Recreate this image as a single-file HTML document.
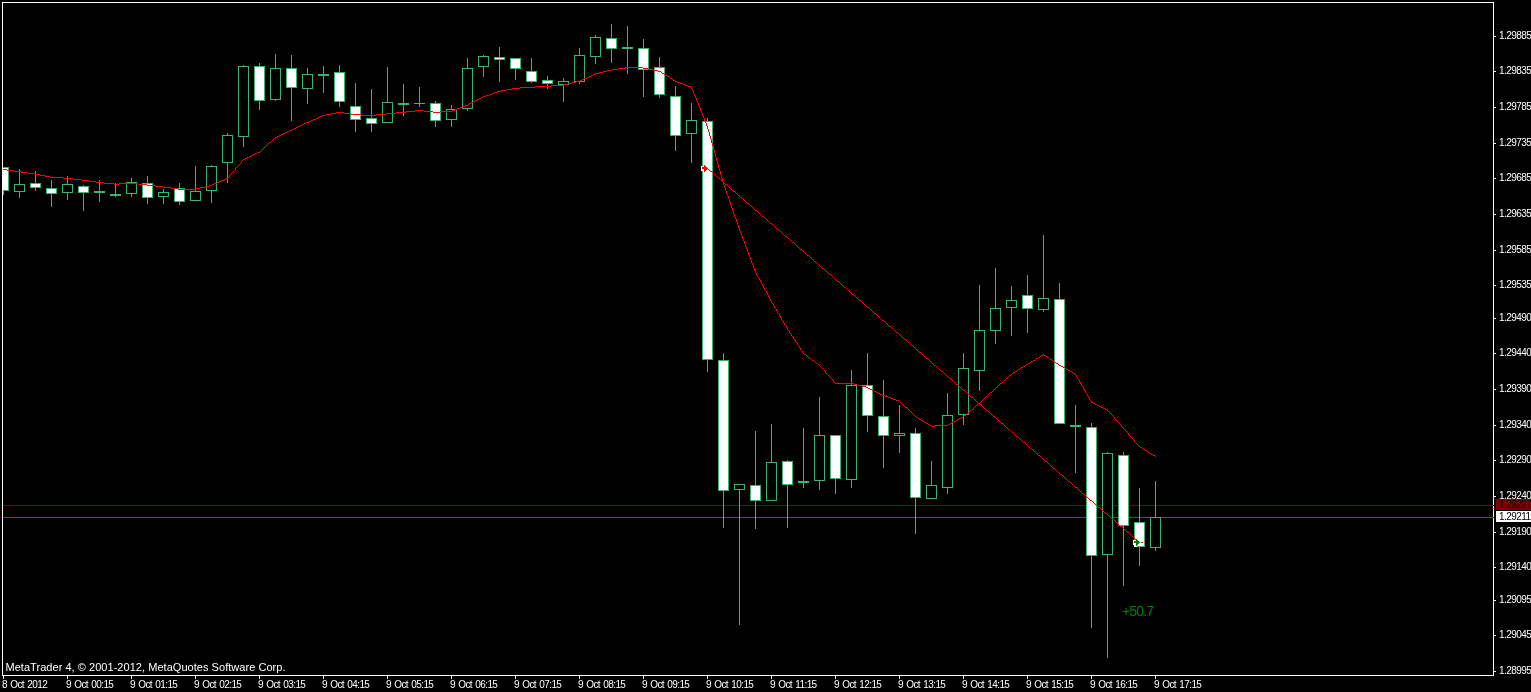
<!DOCTYPE html>
<html lang="en">
<head>
<meta charset="utf-8">
<title>MetaTrader 4 chart</title>
<style>
html,body{margin:0;padding:0;background:#000;}
body{width:1531px;height:692px;overflow:hidden;position:relative;font-family:"Liberation Sans",sans-serif;}
#chart{position:absolute;left:0;top:0;width:1531px;height:692px;display:block;}
.t{position:absolute;white-space:nowrap;color:#fff;line-height:1;}
.p{font-size:10px;letter-spacing:-0.55px;left:1499px;}
.d{font-size:10px;letter-spacing:-0.6px;word-spacing:1.1px;top:680px;}
.box{position:absolute;left:1496px;width:35px;height:11px;}
</style>
</head>
<body>
<svg id="chart" width="1531" height="692" viewBox="0 0 1531 692" shape-rendering="crispEdges">
<rect x="0" y="0" width="1531" height="692" fill="#000"/>

<g id="levels">
<rect x="3" y="505" width="1490" height="1" fill="#800000"/>
<rect x="3" y="517" width="1490" height="1" fill="#008000"/>
</g>
<g id="candles">
<g><rect x="3" y="167" width="1" height="28" fill="#3cb371"/><rect x="3" y="167" width="6" height="24" fill="#3cb371"/><rect x="3" y="168" width="5" height="22" fill="#ffffff"/></g>
<g><rect x="19" y="169" width="1" height="29" fill="#3cb371"/><rect x="14" y="184" width="11" height="8" fill="#3cb371"/><rect x="15" y="185" width="9" height="6" fill="#000"/></g>
<g><rect x="35" y="171" width="1" height="20" fill="#3cb371"/><rect x="30" y="183" width="11" height="5" fill="#3cb371"/><rect x="31" y="184" width="9" height="3" fill="#ffffff"/></g>
<g><rect x="51" y="180" width="1" height="27" fill="#3cb371"/><rect x="46" y="188" width="11" height="6" fill="#3cb371"/><rect x="47" y="189" width="9" height="4" fill="#ffffff"/></g>
<g><rect x="67" y="176" width="1" height="24" fill="#3cb371"/><rect x="62" y="184" width="11" height="9" fill="#3cb371"/><rect x="63" y="185" width="9" height="7" fill="#000"/></g>
<g><rect x="83" y="185" width="1" height="26" fill="#3cb371"/><rect x="78" y="186" width="11" height="7" fill="#3cb371"/><rect x="79" y="187" width="9" height="5" fill="#ffffff"/></g>
<g><rect x="99" y="180" width="1" height="22" fill="#3cb371"/><rect x="94" y="191" width="11" height="2" fill="#3cb371"/></g>
<g><rect x="115" y="183" width="1" height="14" fill="#3cb371"/><rect x="110" y="194" width="11" height="2" fill="#3cb371"/></g>
<g><rect x="131" y="178" width="1" height="19" fill="#3cb371"/><rect x="126" y="182" width="11" height="12" fill="#3cb371"/><rect x="127" y="183" width="9" height="10" fill="#000"/></g>
<g><rect x="147" y="176" width="1" height="28" fill="#3cb371"/><rect x="142" y="183" width="11" height="15" fill="#3cb371"/><rect x="143" y="184" width="9" height="13" fill="#ffffff"/></g>
<g><rect x="163" y="189" width="1" height="15" fill="#3cb371"/><rect x="158" y="192" width="11" height="5" fill="#3cb371"/><rect x="159" y="193" width="9" height="3" fill="#000"/></g>
<g><rect x="179" y="183" width="1" height="22" fill="#3cb371"/><rect x="174" y="188" width="11" height="14" fill="#3cb371"/><rect x="175" y="189" width="9" height="12" fill="#ffffff"/></g>
<g><rect x="195" y="166" width="1" height="35" fill="#3cb371"/><rect x="190" y="191" width="11" height="10" fill="#3cb371"/><rect x="191" y="192" width="9" height="8" fill="#000"/></g>
<g><rect x="211" y="165" width="1" height="38" fill="#3cb371"/><rect x="206" y="166" width="11" height="25" fill="#3cb371"/><rect x="207" y="167" width="9" height="23" fill="#000"/></g>
<g><rect x="227" y="133" width="1" height="50" fill="#3cb371"/><rect x="222" y="135" width="11" height="28" fill="#3cb371"/><rect x="223" y="136" width="9" height="26" fill="#000"/></g>
<g><rect x="243" y="65" width="1" height="82" fill="#3cb371"/><rect x="238" y="66" width="11" height="71" fill="#3cb371"/><rect x="239" y="67" width="9" height="69" fill="#000"/></g>
<g><rect x="259" y="63" width="1" height="47" fill="#3cb371"/><rect x="254" y="66" width="11" height="35" fill="#3cb371"/><rect x="255" y="67" width="9" height="33" fill="#ffffff"/></g>
<g><rect x="275" y="54" width="1" height="47" fill="#3cb371"/><rect x="270" y="68" width="11" height="32" fill="#3cb371"/><rect x="271" y="69" width="9" height="30" fill="#000"/></g>
<g><rect x="291" y="55" width="1" height="66" fill="#3cb371"/><rect x="286" y="68" width="11" height="20" fill="#3cb371"/><rect x="287" y="69" width="9" height="18" fill="#ffffff"/></g>
<g><rect x="307" y="68" width="1" height="36" fill="#3cb371"/><rect x="302" y="74" width="11" height="15" fill="#3cb371"/><rect x="303" y="75" width="9" height="13" fill="#000"/></g>
<g><rect x="323" y="66" width="1" height="27" fill="#3cb371"/><rect x="318" y="74" width="11" height="2" fill="#3cb371"/></g>
<g><rect x="339" y="65" width="1" height="42" fill="#3cb371"/><rect x="334" y="72" width="11" height="30" fill="#3cb371"/><rect x="335" y="73" width="9" height="28" fill="#ffffff"/></g>
<g><rect x="355" y="83" width="1" height="49" fill="#3cb371"/><rect x="350" y="106" width="11" height="14" fill="#3cb371"/><rect x="351" y="107" width="9" height="12" fill="#ffffff"/></g>
<g><rect x="371" y="89" width="1" height="43" fill="#3cb371"/><rect x="366" y="118" width="11" height="6" fill="#3cb371"/><rect x="367" y="119" width="9" height="4" fill="#ffffff"/></g>
<g><rect x="387" y="67" width="1" height="56" fill="#3cb371"/><rect x="382" y="102" width="11" height="21" fill="#3cb371"/><rect x="383" y="103" width="9" height="19" fill="#000"/></g>
<g><rect x="403" y="84" width="1" height="32" fill="#3cb371"/><rect x="398" y="103" width="11" height="2" fill="#3cb371"/></g>
<g><rect x="419" y="87" width="1" height="20" fill="#3cb371"/><rect x="414" y="103" width="11" height="1" fill="#3cb371"/></g>
<g><rect x="435" y="101" width="1" height="26" fill="#3cb371"/><rect x="430" y="103" width="11" height="18" fill="#3cb371"/><rect x="431" y="104" width="9" height="16" fill="#ffffff"/></g>
<g><rect x="451" y="105" width="1" height="22" fill="#3cb371"/><rect x="446" y="109" width="11" height="11" fill="#3cb371"/><rect x="447" y="110" width="9" height="9" fill="#000"/></g>
<g><rect x="467" y="58" width="1" height="53" fill="#3cb371"/><rect x="462" y="68" width="11" height="41" fill="#3cb371"/><rect x="463" y="69" width="9" height="39" fill="#000"/></g>
<g><rect x="483" y="55" width="1" height="22" fill="#3cb371"/><rect x="478" y="56" width="11" height="11" fill="#3cb371"/><rect x="479" y="57" width="9" height="9" fill="#000"/></g>
<g><rect x="499" y="47" width="1" height="35" fill="#3cb371"/><rect x="494" y="57" width="11" height="3" fill="#3cb371"/><rect x="495" y="58" width="9" height="1" fill="#ffffff"/></g>
<g><rect x="515" y="58" width="1" height="22" fill="#3cb371"/><rect x="510" y="58" width="11" height="11" fill="#3cb371"/><rect x="511" y="59" width="9" height="9" fill="#ffffff"/></g>
<g><rect x="531" y="58" width="1" height="25" fill="#3cb371"/><rect x="526" y="71" width="11" height="11" fill="#3cb371"/><rect x="527" y="72" width="9" height="9" fill="#ffffff"/></g>
<g><rect x="547" y="76" width="1" height="13" fill="#3cb371"/><rect x="542" y="80" width="11" height="4" fill="#3cb371"/><rect x="543" y="81" width="9" height="2" fill="#ffffff"/></g>
<g><rect x="563" y="78" width="1" height="24" fill="#3cb371"/><rect x="558" y="81" width="11" height="4" fill="#3cb371"/><rect x="559" y="82" width="9" height="2" fill="#000"/></g>
<g><rect x="579" y="48" width="1" height="36" fill="#3cb371"/><rect x="574" y="55" width="11" height="27" fill="#3cb371"/><rect x="575" y="56" width="9" height="25" fill="#000"/></g>
<g><rect x="595" y="35" width="1" height="29" fill="#3cb371"/><rect x="590" y="37" width="11" height="20" fill="#3cb371"/><rect x="591" y="38" width="9" height="18" fill="#000"/></g>
<g><rect x="611" y="24" width="1" height="39" fill="#3cb371"/><rect x="606" y="38" width="11" height="11" fill="#3cb371"/><rect x="607" y="39" width="9" height="9" fill="#ffffff"/></g>
<g><rect x="627" y="26" width="1" height="48" fill="#3cb371"/><rect x="622" y="47" width="11" height="2" fill="#3cb371"/></g>
<g><rect x="643" y="39" width="1" height="58" fill="#3cb371"/><rect x="638" y="48" width="11" height="22" fill="#3cb371"/><rect x="639" y="49" width="9" height="20" fill="#ffffff"/></g>
<g><rect x="659" y="57" width="1" height="41" fill="#3cb371"/><rect x="654" y="67" width="11" height="28" fill="#3cb371"/><rect x="655" y="68" width="9" height="26" fill="#ffffff"/></g>
<g><rect x="675" y="86" width="1" height="65" fill="#3cb371"/><rect x="670" y="96" width="11" height="40" fill="#3cb371"/><rect x="671" y="97" width="9" height="38" fill="#ffffff"/></g>
<g><rect x="691" y="103" width="1" height="60" fill="#3cb371"/><rect x="686" y="120" width="11" height="14" fill="#3cb371"/><rect x="687" y="121" width="9" height="12" fill="#000"/></g>
<g><rect x="707" y="118" width="1" height="254" fill="#3cb371"/><rect x="702" y="121" width="11" height="239" fill="#3cb371"/><rect x="703" y="122" width="9" height="237" fill="#ffffff"/></g>
<g><rect x="723" y="353" width="1" height="175" fill="#3cb371"/><rect x="718" y="360" width="11" height="131" fill="#3cb371"/><rect x="719" y="361" width="9" height="129" fill="#ffffff"/></g>
<g><rect x="739" y="484" width="1" height="141" fill="#3cb371"/><rect x="734" y="484" width="11" height="6" fill="#3cb371"/><rect x="735" y="485" width="9" height="4" fill="#000"/></g>
<g><rect x="755" y="431" width="1" height="98" fill="#3cb371"/><rect x="750" y="485" width="11" height="16" fill="#3cb371"/><rect x="751" y="486" width="9" height="14" fill="#ffffff"/></g>
<g><rect x="771" y="424" width="1" height="77" fill="#3cb371"/><rect x="766" y="462" width="11" height="39" fill="#3cb371"/><rect x="767" y="463" width="9" height="37" fill="#000"/></g>
<g><rect x="787" y="460" width="1" height="68" fill="#3cb371"/><rect x="782" y="461" width="11" height="24" fill="#3cb371"/><rect x="783" y="462" width="9" height="22" fill="#ffffff"/></g>
<g><rect x="803" y="428" width="1" height="60" fill="#3cb371"/><rect x="798" y="481" width="11" height="2" fill="#3cb371"/></g>
<g><rect x="819" y="397" width="1" height="93" fill="#3cb371"/><rect x="814" y="435" width="11" height="46" fill="#3cb371"/><rect x="815" y="436" width="9" height="44" fill="#000"/></g>
<g><rect x="835" y="435" width="1" height="59" fill="#3cb371"/><rect x="830" y="435" width="11" height="44" fill="#3cb371"/><rect x="831" y="436" width="9" height="42" fill="#ffffff"/></g>
<g><rect x="851" y="370" width="1" height="118" fill="#3cb371"/><rect x="846" y="385" width="11" height="95" fill="#3cb371"/><rect x="847" y="386" width="9" height="93" fill="#000"/></g>
<g><rect x="867" y="353" width="1" height="79" fill="#3cb371"/><rect x="862" y="385" width="11" height="31" fill="#3cb371"/><rect x="863" y="386" width="9" height="29" fill="#ffffff"/></g>
<g><rect x="883" y="380" width="1" height="88" fill="#3cb371"/><rect x="878" y="416" width="11" height="20" fill="#3cb371"/><rect x="879" y="417" width="9" height="18" fill="#ffffff"/></g>
<g><rect x="899" y="405" width="1" height="48" fill="#3cb371"/><rect x="894" y="433" width="11" height="3" fill="#3cb371"/><rect x="895" y="434" width="9" height="1" fill="#000"/></g>
<g><rect x="915" y="428" width="1" height="106" fill="#3cb371"/><rect x="910" y="433" width="11" height="65" fill="#3cb371"/><rect x="911" y="434" width="9" height="63" fill="#ffffff"/></g>
<g><rect x="931" y="461" width="1" height="38" fill="#3cb371"/><rect x="926" y="485" width="11" height="14" fill="#3cb371"/><rect x="927" y="486" width="9" height="12" fill="#000"/></g>
<g><rect x="947" y="393" width="1" height="101" fill="#3cb371"/><rect x="942" y="415" width="11" height="73" fill="#3cb371"/><rect x="943" y="416" width="9" height="71" fill="#000"/></g>
<g><rect x="963" y="353" width="1" height="72" fill="#3cb371"/><rect x="958" y="368" width="11" height="47" fill="#3cb371"/><rect x="959" y="369" width="9" height="45" fill="#000"/></g>
<g><rect x="979" y="285" width="1" height="106" fill="#3cb371"/><rect x="974" y="330" width="11" height="41" fill="#3cb371"/><rect x="975" y="331" width="9" height="39" fill="#000"/></g>
<g><rect x="995" y="268" width="1" height="76" fill="#3cb371"/><rect x="990" y="308" width="11" height="23" fill="#3cb371"/><rect x="991" y="309" width="9" height="21" fill="#000"/></g>
<g><rect x="1011" y="286" width="1" height="50" fill="#3cb371"/><rect x="1006" y="300" width="11" height="8" fill="#3cb371"/><rect x="1007" y="301" width="9" height="6" fill="#000"/></g>
<g><rect x="1027" y="275" width="1" height="58" fill="#3cb371"/><rect x="1022" y="295" width="11" height="14" fill="#3cb371"/><rect x="1023" y="296" width="9" height="12" fill="#ffffff"/></g>
<g><rect x="1043" y="235" width="1" height="77" fill="#3cb371"/><rect x="1038" y="298" width="11" height="12" fill="#3cb371"/><rect x="1039" y="299" width="9" height="10" fill="#000"/></g>
<g><rect x="1059" y="283" width="1" height="141" fill="#3cb371"/><rect x="1054" y="299" width="11" height="125" fill="#3cb371"/><rect x="1055" y="300" width="9" height="123" fill="#ffffff"/></g>
<g><rect x="1075" y="405" width="1" height="68" fill="#3cb371"/><rect x="1070" y="425" width="11" height="2" fill="#3cb371"/></g>
<g><rect x="1091" y="423" width="1" height="205" fill="#3cb371"/><rect x="1086" y="427" width="11" height="129" fill="#3cb371"/><rect x="1087" y="428" width="9" height="127" fill="#ffffff"/></g>
<g><rect x="1107" y="452" width="1" height="206" fill="#3cb371"/><rect x="1102" y="453" width="11" height="102" fill="#3cb371"/><rect x="1103" y="454" width="9" height="100" fill="#000"/></g>
<g><rect x="1123" y="452" width="1" height="134" fill="#3cb371"/><rect x="1118" y="455" width="11" height="71" fill="#3cb371"/><rect x="1119" y="456" width="9" height="69" fill="#ffffff"/></g>
<g><rect x="1139" y="488" width="1" height="78" fill="#3cb371"/><rect x="1134" y="522" width="11" height="25" fill="#3cb371"/><rect x="1135" y="523" width="9" height="23" fill="#ffffff"/></g>
<g><rect x="1155" y="481" width="1" height="70" fill="#3cb371"/><rect x="1150" y="517" width="11" height="31" fill="#3cb371"/><rect x="1151" y="518" width="9" height="29" fill="#000"/></g>
</g>
<g id="ma"><rect x="3" y="169" width="4" height="1" fill="#ff0000"/><rect x="7" y="170" width="7" height="1" fill="#ff0000"/><rect x="14" y="171" width="7" height="1" fill="#ff0000"/><rect x="21" y="172" width="7" height="1" fill="#ff0000"/><rect x="28" y="173" width="6" height="1" fill="#ff0000"/><rect x="34" y="174" width="6" height="1" fill="#ff0000"/><rect x="40" y="175" width="5" height="1" fill="#ff0000"/><rect x="45" y="176" width="5" height="1" fill="#ff0000"/><rect x="50" y="177" width="13" height="1" fill="#ff0000"/><rect x="63" y="178" width="10" height="1" fill="#ff0000"/><rect x="73" y="179" width="8" height="1" fill="#ff0000"/><rect x="81" y="180" width="8" height="1" fill="#ff0000"/><rect x="89" y="181" width="7" height="1" fill="#ff0000"/><rect x="96" y="182" width="8" height="1" fill="#ff0000"/><rect x="104" y="183" width="10" height="1" fill="#ff0000"/><rect x="114" y="184" width="5" height="1" fill="#ff0000"/><rect x="119" y="183" width="19" height="1" fill="#ff0000"/><rect x="138" y="184" width="9" height="1" fill="#ff0000"/><rect x="147" y="185" width="8" height="1" fill="#ff0000"/><rect x="155" y="186" width="8" height="1" fill="#ff0000"/><rect x="163" y="187" width="8" height="1" fill="#ff0000"/><rect x="171" y="188" width="7" height="1" fill="#ff0000"/><rect x="178" y="189" width="18" height="1" fill="#ff0000"/><rect x="196" y="188" width="4" height="1" fill="#ff0000"/><rect x="200" y="187" width="5" height="1" fill="#ff0000"/><rect x="205" y="186" width="4" height="1" fill="#ff0000"/><rect x="209" y="185" width="3" height="1" fill="#ff0000"/><rect x="212" y="184" width="2" height="1" fill="#ff0000"/><rect x="214" y="183" width="3" height="1" fill="#ff0000"/><rect x="217" y="182" width="2" height="1" fill="#ff0000"/><rect x="219" y="181" width="2" height="1" fill="#ff0000"/><rect x="221" y="180" width="3" height="1" fill="#ff0000"/><rect x="224" y="179" width="2" height="1" fill="#ff0000"/><rect x="226" y="178" width="2" height="1" fill="#ff0000"/><rect x="228" y="177" width="1" height="1" fill="#ff0000"/><rect x="229" y="175" width="1" height="2" fill="#ff0000"/><rect x="230" y="174" width="1" height="1" fill="#ff0000"/><rect x="231" y="173" width="1" height="1" fill="#ff0000"/><rect x="232" y="172" width="1" height="1" fill="#ff0000"/><rect x="233" y="171" width="1" height="1" fill="#ff0000"/><rect x="234" y="170" width="1" height="1" fill="#ff0000"/><rect x="235" y="168" width="1" height="2" fill="#ff0000"/><rect x="236" y="167" width="1" height="1" fill="#ff0000"/><rect x="237" y="166" width="1" height="1" fill="#ff0000"/><rect x="238" y="165" width="1" height="1" fill="#ff0000"/><rect x="239" y="164" width="1" height="1" fill="#ff0000"/><rect x="240" y="163" width="1" height="1" fill="#ff0000"/><rect x="241" y="161" width="1" height="2" fill="#ff0000"/><rect x="242" y="160" width="1" height="1" fill="#ff0000"/><rect x="243" y="159" width="2" height="1" fill="#ff0000"/><rect x="245" y="158" width="2" height="1" fill="#ff0000"/><rect x="247" y="157" width="2" height="1" fill="#ff0000"/><rect x="249" y="156" width="2" height="1" fill="#ff0000"/><rect x="251" y="155" width="2" height="1" fill="#ff0000"/><rect x="253" y="154" width="2" height="1" fill="#ff0000"/><rect x="255" y="153" width="2" height="1" fill="#ff0000"/><rect x="257" y="152" width="3" height="1" fill="#ff0000"/><rect x="260" y="151" width="1" height="1" fill="#ff0000"/><rect x="261" y="150" width="1" height="1" fill="#ff0000"/><rect x="262" y="149" width="1" height="1" fill="#ff0000"/><rect x="263" y="148" width="1" height="1" fill="#ff0000"/><rect x="264" y="147" width="1" height="1" fill="#ff0000"/><rect x="265" y="146" width="1" height="1" fill="#ff0000"/><rect x="266" y="145" width="1" height="1" fill="#ff0000"/><rect x="267" y="144" width="1" height="1" fill="#ff0000"/><rect x="268" y="143" width="1" height="1" fill="#ff0000"/><rect x="269" y="142" width="2" height="1" fill="#ff0000"/><rect x="271" y="141" width="1" height="1" fill="#ff0000"/><rect x="272" y="140" width="1" height="1" fill="#ff0000"/><rect x="273" y="139" width="1" height="1" fill="#ff0000"/><rect x="274" y="138" width="1" height="1" fill="#ff0000"/><rect x="275" y="137" width="2" height="1" fill="#ff0000"/><rect x="277" y="136" width="2" height="1" fill="#ff0000"/><rect x="279" y="135" width="2" height="1" fill="#ff0000"/><rect x="281" y="134" width="2" height="1" fill="#ff0000"/><rect x="283" y="133" width="2" height="1" fill="#ff0000"/><rect x="285" y="132" width="2" height="1" fill="#ff0000"/><rect x="287" y="131" width="2" height="1" fill="#ff0000"/><rect x="289" y="130" width="3" height="1" fill="#ff0000"/><rect x="292" y="129" width="2" height="1" fill="#ff0000"/><rect x="294" y="128" width="2" height="1" fill="#ff0000"/><rect x="296" y="127" width="2" height="1" fill="#ff0000"/><rect x="298" y="126" width="2" height="1" fill="#ff0000"/><rect x="300" y="125" width="2" height="1" fill="#ff0000"/><rect x="302" y="124" width="2" height="1" fill="#ff0000"/><rect x="304" y="123" width="2" height="1" fill="#ff0000"/><rect x="306" y="122" width="3" height="1" fill="#ff0000"/><rect x="309" y="121" width="2" height="1" fill="#ff0000"/><rect x="311" y="120" width="2" height="1" fill="#ff0000"/><rect x="313" y="119" width="3" height="1" fill="#ff0000"/><rect x="316" y="118" width="2" height="1" fill="#ff0000"/><rect x="318" y="117" width="2" height="1" fill="#ff0000"/><rect x="320" y="116" width="2" height="1" fill="#ff0000"/><rect x="322" y="115" width="4" height="1" fill="#ff0000"/><rect x="326" y="114" width="5" height="1" fill="#ff0000"/><rect x="331" y="113" width="5" height="1" fill="#ff0000"/><rect x="336" y="112" width="8" height="1" fill="#ff0000"/><rect x="344" y="113" width="7" height="1" fill="#ff0000"/><rect x="351" y="114" width="10" height="1" fill="#ff0000"/><rect x="361" y="115" width="15" height="1" fill="#ff0000"/><rect x="376" y="114" width="10" height="1" fill="#ff0000"/><rect x="386" y="113" width="10" height="1" fill="#ff0000"/><rect x="396" y="112" width="10" height="1" fill="#ff0000"/><rect x="406" y="111" width="9" height="1" fill="#ff0000"/><rect x="415" y="110" width="9" height="1" fill="#ff0000"/><rect x="424" y="111" width="9" height="1" fill="#ff0000"/><rect x="433" y="112" width="7" height="1" fill="#ff0000"/><rect x="440" y="111" width="12" height="1" fill="#ff0000"/><rect x="452" y="110" width="3" height="1" fill="#ff0000"/><rect x="455" y="109" width="2" height="1" fill="#ff0000"/><rect x="457" y="108" width="3" height="1" fill="#ff0000"/><rect x="460" y="107" width="2" height="1" fill="#ff0000"/><rect x="462" y="106" width="3" height="1" fill="#ff0000"/><rect x="465" y="105" width="3" height="1" fill="#ff0000"/><rect x="468" y="104" width="1" height="1" fill="#ff0000"/><rect x="469" y="103" width="2" height="1" fill="#ff0000"/><rect x="471" y="102" width="2" height="1" fill="#ff0000"/><rect x="473" y="101" width="2" height="1" fill="#ff0000"/><rect x="475" y="100" width="2" height="1" fill="#ff0000"/><rect x="477" y="99" width="2" height="1" fill="#ff0000"/><rect x="479" y="98" width="2" height="1" fill="#ff0000"/><rect x="481" y="97" width="2" height="1" fill="#ff0000"/><rect x="483" y="96" width="3" height="1" fill="#ff0000"/><rect x="486" y="95" width="3" height="1" fill="#ff0000"/><rect x="489" y="94" width="3" height="1" fill="#ff0000"/><rect x="492" y="93" width="2" height="1" fill="#ff0000"/><rect x="494" y="92" width="3" height="1" fill="#ff0000"/><rect x="497" y="91" width="4" height="1" fill="#ff0000"/><rect x="501" y="90" width="5" height="1" fill="#ff0000"/><rect x="506" y="89" width="6" height="1" fill="#ff0000"/><rect x="512" y="88" width="8" height="1" fill="#ff0000"/><rect x="520" y="87" width="15" height="1" fill="#ff0000"/><rect x="535" y="86" width="16" height="1" fill="#ff0000"/><rect x="551" y="85" width="13" height="1" fill="#ff0000"/><rect x="564" y="84" width="4" height="1" fill="#ff0000"/><rect x="568" y="83" width="4" height="1" fill="#ff0000"/><rect x="572" y="82" width="4" height="1" fill="#ff0000"/><rect x="576" y="81" width="4" height="1" fill="#ff0000"/><rect x="580" y="80" width="2" height="1" fill="#ff0000"/><rect x="582" y="79" width="2" height="1" fill="#ff0000"/><rect x="584" y="78" width="3" height="1" fill="#ff0000"/><rect x="587" y="77" width="2" height="1" fill="#ff0000"/><rect x="589" y="76" width="2" height="1" fill="#ff0000"/><rect x="591" y="75" width="2" height="1" fill="#ff0000"/><rect x="593" y="74" width="2" height="1" fill="#ff0000"/><rect x="595" y="73" width="4" height="1" fill="#ff0000"/><rect x="599" y="72" width="4" height="1" fill="#ff0000"/><rect x="603" y="71" width="4" height="1" fill="#ff0000"/><rect x="607" y="70" width="5" height="1" fill="#ff0000"/><rect x="612" y="69" width="6" height="1" fill="#ff0000"/><rect x="618" y="68" width="7" height="1" fill="#ff0000"/><rect x="625" y="67" width="18" height="1" fill="#ff0000"/><rect x="643" y="68" width="5" height="1" fill="#ff0000"/><rect x="648" y="69" width="5" height="1" fill="#ff0000"/><rect x="653" y="70" width="5" height="1" fill="#ff0000"/><rect x="658" y="71" width="3" height="1" fill="#ff0000"/><rect x="661" y="72" width="1" height="1" fill="#ff0000"/><rect x="662" y="73" width="2" height="1" fill="#ff0000"/><rect x="664" y="74" width="1" height="1" fill="#ff0000"/><rect x="665" y="75" width="2" height="1" fill="#ff0000"/><rect x="667" y="76" width="2" height="1" fill="#ff0000"/><rect x="669" y="77" width="1" height="1" fill="#ff0000"/><rect x="670" y="78" width="2" height="1" fill="#ff0000"/><rect x="672" y="79" width="1" height="1" fill="#ff0000"/><rect x="673" y="80" width="2" height="1" fill="#ff0000"/><rect x="675" y="81" width="2" height="1" fill="#ff0000"/><rect x="677" y="82" width="3" height="1" fill="#ff0000"/><rect x="680" y="83" width="3" height="1" fill="#ff0000"/><rect x="683" y="84" width="2" height="1" fill="#ff0000"/><rect x="685" y="85" width="3" height="1" fill="#ff0000"/><rect x="688" y="86" width="3" height="1" fill="#ff0000"/><rect x="691" y="87" width="1" height="2" fill="#ff0000"/><rect x="692" y="89" width="1" height="2" fill="#ff0000"/><rect x="693" y="91" width="1" height="3" fill="#ff0000"/><rect x="694" y="94" width="1" height="2" fill="#ff0000"/><rect x="695" y="96" width="1" height="2" fill="#ff0000"/><rect x="696" y="98" width="1" height="3" fill="#ff0000"/><rect x="697" y="101" width="1" height="2" fill="#ff0000"/><rect x="698" y="103" width="1" height="3" fill="#ff0000"/><rect x="699" y="106" width="1" height="2" fill="#ff0000"/><rect x="700" y="108" width="1" height="3" fill="#ff0000"/><rect x="701" y="111" width="1" height="2" fill="#ff0000"/><rect x="702" y="113" width="1" height="3" fill="#ff0000"/><rect x="703" y="116" width="1" height="2" fill="#ff0000"/><rect x="704" y="118" width="1" height="3" fill="#ff0000"/><rect x="705" y="121" width="1" height="2" fill="#ff0000"/><rect x="706" y="123" width="1" height="3" fill="#ff0000"/><rect x="707" y="126" width="1" height="3" fill="#ff0000"/><rect x="708" y="129" width="1" height="3" fill="#ff0000"/><rect x="709" y="132" width="1" height="4" fill="#ff0000"/><rect x="710" y="136" width="1" height="3" fill="#ff0000"/><rect x="711" y="139" width="1" height="4" fill="#ff0000"/><rect x="712" y="143" width="1" height="3" fill="#ff0000"/><rect x="713" y="146" width="1" height="4" fill="#ff0000"/><rect x="714" y="150" width="1" height="3" fill="#ff0000"/><rect x="715" y="153" width="1" height="4" fill="#ff0000"/><rect x="716" y="157" width="1" height="4" fill="#ff0000"/><rect x="717" y="161" width="1" height="3" fill="#ff0000"/><rect x="718" y="164" width="1" height="4" fill="#ff0000"/><rect x="719" y="168" width="1" height="3" fill="#ff0000"/><rect x="720" y="171" width="1" height="4" fill="#ff0000"/><rect x="721" y="175" width="1" height="3" fill="#ff0000"/><rect x="722" y="178" width="1" height="4" fill="#ff0000"/><rect x="723" y="182" width="1" height="3" fill="#ff0000"/><rect x="724" y="185" width="1" height="3" fill="#ff0000"/><rect x="725" y="188" width="1" height="3" fill="#ff0000"/><rect x="726" y="191" width="1" height="3" fill="#ff0000"/><rect x="727" y="194" width="1" height="2" fill="#ff0000"/><rect x="728" y="196" width="1" height="3" fill="#ff0000"/><rect x="729" y="199" width="1" height="3" fill="#ff0000"/><rect x="730" y="202" width="1" height="3" fill="#ff0000"/><rect x="731" y="205" width="1" height="3" fill="#ff0000"/><rect x="732" y="208" width="1" height="3" fill="#ff0000"/><rect x="733" y="211" width="1" height="3" fill="#ff0000"/><rect x="734" y="214" width="1" height="3" fill="#ff0000"/><rect x="735" y="217" width="1" height="2" fill="#ff0000"/><rect x="736" y="219" width="1" height="3" fill="#ff0000"/><rect x="737" y="222" width="1" height="3" fill="#ff0000"/><rect x="738" y="225" width="1" height="3" fill="#ff0000"/><rect x="739" y="228" width="1" height="3" fill="#ff0000"/><rect x="740" y="231" width="1" height="2" fill="#ff0000"/><rect x="741" y="233" width="1" height="3" fill="#ff0000"/><rect x="742" y="236" width="1" height="3" fill="#ff0000"/><rect x="743" y="239" width="1" height="2" fill="#ff0000"/><rect x="744" y="241" width="1" height="3" fill="#ff0000"/><rect x="745" y="244" width="1" height="3" fill="#ff0000"/><rect x="746" y="247" width="1" height="2" fill="#ff0000"/><rect x="747" y="249" width="1" height="3" fill="#ff0000"/><rect x="748" y="252" width="1" height="3" fill="#ff0000"/><rect x="749" y="255" width="1" height="2" fill="#ff0000"/><rect x="750" y="257" width="1" height="3" fill="#ff0000"/><rect x="751" y="260" width="1" height="3" fill="#ff0000"/><rect x="752" y="263" width="1" height="2" fill="#ff0000"/><rect x="753" y="265" width="1" height="3" fill="#ff0000"/><rect x="754" y="268" width="1" height="3" fill="#ff0000"/><rect x="755" y="271" width="1" height="2" fill="#ff0000"/><rect x="756" y="273" width="1" height="2" fill="#ff0000"/><rect x="757" y="275" width="1" height="2" fill="#ff0000"/><rect x="758" y="277" width="1" height="1" fill="#ff0000"/><rect x="759" y="278" width="1" height="2" fill="#ff0000"/><rect x="760" y="280" width="1" height="2" fill="#ff0000"/><rect x="761" y="282" width="1" height="2" fill="#ff0000"/><rect x="762" y="284" width="1" height="2" fill="#ff0000"/><rect x="763" y="286" width="1" height="2" fill="#ff0000"/><rect x="764" y="288" width="1" height="2" fill="#ff0000"/><rect x="765" y="290" width="1" height="1" fill="#ff0000"/><rect x="766" y="291" width="1" height="2" fill="#ff0000"/><rect x="767" y="293" width="1" height="2" fill="#ff0000"/><rect x="768" y="295" width="1" height="2" fill="#ff0000"/><rect x="769" y="297" width="1" height="2" fill="#ff0000"/><rect x="770" y="299" width="1" height="2" fill="#ff0000"/><rect x="771" y="301" width="1" height="2" fill="#ff0000"/><rect x="772" y="303" width="1" height="1" fill="#ff0000"/><rect x="773" y="304" width="1" height="2" fill="#ff0000"/><rect x="774" y="306" width="1" height="2" fill="#ff0000"/><rect x="775" y="308" width="1" height="1" fill="#ff0000"/><rect x="776" y="309" width="1" height="2" fill="#ff0000"/><rect x="777" y="311" width="1" height="2" fill="#ff0000"/><rect x="778" y="313" width="1" height="1" fill="#ff0000"/><rect x="779" y="314" width="1" height="2" fill="#ff0000"/><rect x="780" y="316" width="1" height="2" fill="#ff0000"/><rect x="781" y="318" width="1" height="2" fill="#ff0000"/><rect x="782" y="320" width="1" height="1" fill="#ff0000"/><rect x="783" y="321" width="1" height="2" fill="#ff0000"/><rect x="784" y="323" width="1" height="2" fill="#ff0000"/><rect x="785" y="325" width="1" height="1" fill="#ff0000"/><rect x="786" y="326" width="1" height="2" fill="#ff0000"/><rect x="787" y="328" width="1" height="2" fill="#ff0000"/><rect x="788" y="330" width="1" height="1" fill="#ff0000"/><rect x="789" y="331" width="1" height="2" fill="#ff0000"/><rect x="790" y="333" width="1" height="1" fill="#ff0000"/><rect x="791" y="334" width="1" height="2" fill="#ff0000"/><rect x="792" y="336" width="1" height="1" fill="#ff0000"/><rect x="793" y="337" width="1" height="2" fill="#ff0000"/><rect x="794" y="339" width="1" height="1" fill="#ff0000"/><rect x="795" y="340" width="1" height="2" fill="#ff0000"/><rect x="796" y="342" width="1" height="1" fill="#ff0000"/><rect x="797" y="343" width="1" height="2" fill="#ff0000"/><rect x="798" y="345" width="1" height="1" fill="#ff0000"/><rect x="799" y="346" width="1" height="2" fill="#ff0000"/><rect x="800" y="348" width="1" height="2" fill="#ff0000"/><rect x="801" y="350" width="1" height="1" fill="#ff0000"/><rect x="802" y="351" width="1" height="2" fill="#ff0000"/><rect x="803" y="353" width="1" height="1" fill="#ff0000"/><rect x="804" y="354" width="2" height="1" fill="#ff0000"/><rect x="806" y="355" width="1" height="1" fill="#ff0000"/><rect x="807" y="356" width="1" height="1" fill="#ff0000"/><rect x="808" y="357" width="2" height="1" fill="#ff0000"/><rect x="810" y="358" width="1" height="1" fill="#ff0000"/><rect x="811" y="359" width="1" height="1" fill="#ff0000"/><rect x="812" y="360" width="2" height="1" fill="#ff0000"/><rect x="814" y="361" width="1" height="1" fill="#ff0000"/><rect x="815" y="362" width="1" height="1" fill="#ff0000"/><rect x="816" y="363" width="2" height="1" fill="#ff0000"/><rect x="818" y="364" width="1" height="1" fill="#ff0000"/><rect x="819" y="365" width="1" height="1" fill="#ff0000"/><rect x="820" y="366" width="1" height="1" fill="#ff0000"/><rect x="821" y="367" width="1" height="1" fill="#ff0000"/><rect x="822" y="368" width="1" height="1" fill="#ff0000"/><rect x="823" y="369" width="1" height="1" fill="#ff0000"/><rect x="824" y="370" width="1" height="1" fill="#ff0000"/><rect x="825" y="371" width="1" height="2" fill="#ff0000"/><rect x="826" y="373" width="1" height="1" fill="#ff0000"/><rect x="827" y="374" width="1" height="1" fill="#ff0000"/><rect x="828" y="375" width="1" height="1" fill="#ff0000"/><rect x="829" y="376" width="1" height="1" fill="#ff0000"/><rect x="830" y="377" width="1" height="1" fill="#ff0000"/><rect x="831" y="378" width="1" height="1" fill="#ff0000"/><rect x="832" y="379" width="1" height="1" fill="#ff0000"/><rect x="833" y="380" width="1" height="2" fill="#ff0000"/><rect x="834" y="382" width="1" height="1" fill="#ff0000"/><rect x="835" y="383" width="19" height="1" fill="#ff0000"/><rect x="854" y="384" width="4" height="1" fill="#ff0000"/><rect x="858" y="385" width="4" height="1" fill="#ff0000"/><rect x="862" y="386" width="4" height="1" fill="#ff0000"/><rect x="866" y="387" width="2" height="1" fill="#ff0000"/><rect x="868" y="388" width="2" height="1" fill="#ff0000"/><rect x="870" y="389" width="2" height="1" fill="#ff0000"/><rect x="872" y="390" width="2" height="1" fill="#ff0000"/><rect x="874" y="391" width="2" height="1" fill="#ff0000"/><rect x="876" y="392" width="2" height="1" fill="#ff0000"/><rect x="878" y="393" width="2" height="1" fill="#ff0000"/><rect x="880" y="394" width="2" height="1" fill="#ff0000"/><rect x="882" y="395" width="3" height="1" fill="#ff0000"/><rect x="885" y="396" width="3" height="1" fill="#ff0000"/><rect x="888" y="397" width="3" height="1" fill="#ff0000"/><rect x="891" y="398" width="2" height="1" fill="#ff0000"/><rect x="893" y="399" width="3" height="1" fill="#ff0000"/><rect x="896" y="400" width="3" height="1" fill="#ff0000"/><rect x="899" y="401" width="1" height="1" fill="#ff0000"/><rect x="900" y="402" width="1" height="1" fill="#ff0000"/><rect x="901" y="403" width="1" height="1" fill="#ff0000"/><rect x="902" y="404" width="1" height="1" fill="#ff0000"/><rect x="903" y="405" width="1" height="1" fill="#ff0000"/><rect x="904" y="406" width="1" height="1" fill="#ff0000"/><rect x="905" y="407" width="2" height="1" fill="#ff0000"/><rect x="907" y="408" width="1" height="1" fill="#ff0000"/><rect x="908" y="409" width="1" height="1" fill="#ff0000"/><rect x="909" y="410" width="1" height="1" fill="#ff0000"/><rect x="910" y="411" width="1" height="1" fill="#ff0000"/><rect x="911" y="412" width="1" height="1" fill="#ff0000"/><rect x="912" y="413" width="1" height="1" fill="#ff0000"/><rect x="913" y="414" width="1" height="1" fill="#ff0000"/><rect x="914" y="415" width="1" height="1" fill="#ff0000"/><rect x="915" y="416" width="1" height="1" fill="#ff0000"/><rect x="916" y="417" width="2" height="1" fill="#ff0000"/><rect x="918" y="418" width="1" height="1" fill="#ff0000"/><rect x="919" y="419" width="2" height="1" fill="#ff0000"/><rect x="921" y="420" width="2" height="1" fill="#ff0000"/><rect x="923" y="421" width="1" height="1" fill="#ff0000"/><rect x="924" y="422" width="2" height="1" fill="#ff0000"/><rect x="926" y="423" width="2" height="1" fill="#ff0000"/><rect x="928" y="424" width="1" height="1" fill="#ff0000"/><rect x="929" y="425" width="2" height="1" fill="#ff0000"/><rect x="931" y="426" width="4" height="1" fill="#ff0000"/><rect x="935" y="425" width="13" height="1" fill="#ff0000"/><rect x="948" y="424" width="2" height="1" fill="#ff0000"/><rect x="950" y="423" width="2" height="1" fill="#ff0000"/><rect x="952" y="422" width="2" height="1" fill="#ff0000"/><rect x="954" y="421" width="2" height="1" fill="#ff0000"/><rect x="956" y="420" width="1" height="1" fill="#ff0000"/><rect x="957" y="419" width="2" height="1" fill="#ff0000"/><rect x="959" y="418" width="2" height="1" fill="#ff0000"/><rect x="961" y="417" width="2" height="1" fill="#ff0000"/><rect x="963" y="416" width="1" height="1" fill="#ff0000"/><rect x="964" y="415" width="2" height="1" fill="#ff0000"/><rect x="966" y="414" width="1" height="1" fill="#ff0000"/><rect x="967" y="413" width="1" height="1" fill="#ff0000"/><rect x="968" y="412" width="1" height="1" fill="#ff0000"/><rect x="969" y="411" width="1" height="1" fill="#ff0000"/><rect x="970" y="410" width="2" height="1" fill="#ff0000"/><rect x="972" y="409" width="1" height="1" fill="#ff0000"/><rect x="973" y="408" width="1" height="1" fill="#ff0000"/><rect x="974" y="407" width="1" height="1" fill="#ff0000"/><rect x="975" y="406" width="1" height="1" fill="#ff0000"/><rect x="976" y="405" width="1" height="1" fill="#ff0000"/><rect x="977" y="404" width="2" height="1" fill="#ff0000"/><rect x="979" y="403" width="1" height="1" fill="#ff0000"/><rect x="980" y="402" width="1" height="1" fill="#ff0000"/><rect x="981" y="401" width="1" height="1" fill="#ff0000"/><rect x="982" y="400" width="1" height="1" fill="#ff0000"/><rect x="983" y="399" width="1" height="1" fill="#ff0000"/><rect x="984" y="398" width="1" height="1" fill="#ff0000"/><rect x="985" y="397" width="1" height="1" fill="#ff0000"/><rect x="986" y="396" width="1" height="1" fill="#ff0000"/><rect x="987" y="395" width="1" height="1" fill="#ff0000"/><rect x="988" y="394" width="1" height="1" fill="#ff0000"/><rect x="989" y="393" width="1" height="1" fill="#ff0000"/><rect x="990" y="392" width="2" height="1" fill="#ff0000"/><rect x="992" y="391" width="1" height="1" fill="#ff0000"/><rect x="993" y="390" width="1" height="1" fill="#ff0000"/><rect x="994" y="389" width="1" height="1" fill="#ff0000"/><rect x="995" y="388" width="1" height="1" fill="#ff0000"/><rect x="996" y="387" width="1" height="1" fill="#ff0000"/><rect x="997" y="386" width="1" height="1" fill="#ff0000"/><rect x="998" y="385" width="1" height="1" fill="#ff0000"/><rect x="999" y="384" width="1" height="1" fill="#ff0000"/><rect x="1000" y="383" width="2" height="1" fill="#ff0000"/><rect x="1002" y="382" width="1" height="1" fill="#ff0000"/><rect x="1003" y="381" width="1" height="1" fill="#ff0000"/><rect x="1004" y="380" width="1" height="1" fill="#ff0000"/><rect x="1005" y="379" width="1" height="1" fill="#ff0000"/><rect x="1006" y="378" width="1" height="1" fill="#ff0000"/><rect x="1007" y="377" width="1" height="1" fill="#ff0000"/><rect x="1008" y="376" width="1" height="1" fill="#ff0000"/><rect x="1009" y="375" width="2" height="1" fill="#ff0000"/><rect x="1011" y="374" width="1" height="1" fill="#ff0000"/><rect x="1012" y="373" width="1" height="1" fill="#ff0000"/><rect x="1013" y="372" width="2" height="1" fill="#ff0000"/><rect x="1015" y="371" width="2" height="1" fill="#ff0000"/><rect x="1017" y="370" width="1" height="1" fill="#ff0000"/><rect x="1018" y="369" width="2" height="1" fill="#ff0000"/><rect x="1020" y="368" width="1" height="1" fill="#ff0000"/><rect x="1021" y="367" width="2" height="1" fill="#ff0000"/><rect x="1023" y="366" width="2" height="1" fill="#ff0000"/><rect x="1025" y="365" width="1" height="1" fill="#ff0000"/><rect x="1026" y="364" width="2" height="1" fill="#ff0000"/><rect x="1028" y="363" width="2" height="1" fill="#ff0000"/><rect x="1030" y="362" width="1" height="1" fill="#ff0000"/><rect x="1031" y="361" width="2" height="1" fill="#ff0000"/><rect x="1033" y="360" width="2" height="1" fill="#ff0000"/><rect x="1035" y="359" width="1" height="1" fill="#ff0000"/><rect x="1036" y="358" width="2" height="1" fill="#ff0000"/><rect x="1038" y="357" width="2" height="1" fill="#ff0000"/><rect x="1040" y="356" width="1" height="1" fill="#ff0000"/><rect x="1041" y="355" width="2" height="1" fill="#ff0000"/><rect x="1043" y="354" width="1" height="1" fill="#ff0000"/><rect x="1044" y="355" width="2" height="1" fill="#ff0000"/><rect x="1046" y="356" width="1" height="1" fill="#ff0000"/><rect x="1047" y="357" width="2" height="1" fill="#ff0000"/><rect x="1049" y="358" width="1" height="1" fill="#ff0000"/><rect x="1050" y="359" width="2" height="1" fill="#ff0000"/><rect x="1052" y="360" width="1" height="1" fill="#ff0000"/><rect x="1053" y="361" width="2" height="1" fill="#ff0000"/><rect x="1055" y="362" width="1" height="1" fill="#ff0000"/><rect x="1056" y="363" width="2" height="1" fill="#ff0000"/><rect x="1058" y="364" width="1" height="1" fill="#ff0000"/><rect x="1059" y="365" width="2" height="1" fill="#ff0000"/><rect x="1061" y="366" width="2" height="1" fill="#ff0000"/><rect x="1063" y="367" width="2" height="1" fill="#ff0000"/><rect x="1065" y="368" width="1" height="1" fill="#ff0000"/><rect x="1066" y="369" width="2" height="1" fill="#ff0000"/><rect x="1068" y="370" width="2" height="1" fill="#ff0000"/><rect x="1070" y="371" width="2" height="1" fill="#ff0000"/><rect x="1072" y="372" width="1" height="1" fill="#ff0000"/><rect x="1073" y="373" width="2" height="1" fill="#ff0000"/><rect x="1075" y="374" width="1" height="1" fill="#ff0000"/><rect x="1076" y="375" width="1" height="2" fill="#ff0000"/><rect x="1077" y="377" width="1" height="2" fill="#ff0000"/><rect x="1078" y="379" width="1" height="1" fill="#ff0000"/><rect x="1079" y="380" width="1" height="2" fill="#ff0000"/><rect x="1080" y="382" width="1" height="2" fill="#ff0000"/><rect x="1081" y="384" width="1" height="2" fill="#ff0000"/><rect x="1082" y="386" width="1" height="1" fill="#ff0000"/><rect x="1083" y="387" width="1" height="2" fill="#ff0000"/><rect x="1084" y="389" width="1" height="2" fill="#ff0000"/><rect x="1085" y="391" width="1" height="2" fill="#ff0000"/><rect x="1086" y="393" width="1" height="1" fill="#ff0000"/><rect x="1087" y="394" width="1" height="2" fill="#ff0000"/><rect x="1088" y="396" width="1" height="2" fill="#ff0000"/><rect x="1089" y="398" width="1" height="2" fill="#ff0000"/><rect x="1090" y="400" width="1" height="1" fill="#ff0000"/><rect x="1091" y="401" width="1" height="2" fill="#ff0000"/><rect x="1092" y="402" width="1" height="1" fill="#ff0000"/><rect x="1093" y="403" width="2" height="1" fill="#ff0000"/><rect x="1095" y="404" width="2" height="1" fill="#ff0000"/><rect x="1097" y="405" width="2" height="1" fill="#ff0000"/><rect x="1099" y="406" width="2" height="1" fill="#ff0000"/><rect x="1101" y="407" width="2" height="1" fill="#ff0000"/><rect x="1103" y="408" width="2" height="1" fill="#ff0000"/><rect x="1105" y="409" width="2" height="1" fill="#ff0000"/><rect x="1107" y="410" width="1" height="1" fill="#ff0000"/><rect x="1108" y="411" width="1" height="1" fill="#ff0000"/><rect x="1109" y="412" width="1" height="1" fill="#ff0000"/><rect x="1110" y="413" width="1" height="1" fill="#ff0000"/><rect x="1111" y="414" width="1" height="1" fill="#ff0000"/><rect x="1112" y="415" width="1" height="1" fill="#ff0000"/><rect x="1113" y="416" width="1" height="1" fill="#ff0000"/><rect x="1114" y="417" width="1" height="2" fill="#ff0000"/><rect x="1115" y="419" width="1" height="1" fill="#ff0000"/><rect x="1116" y="420" width="1" height="1" fill="#ff0000"/><rect x="1117" y="421" width="1" height="1" fill="#ff0000"/><rect x="1118" y="422" width="1" height="1" fill="#ff0000"/><rect x="1119" y="423" width="1" height="1" fill="#ff0000"/><rect x="1120" y="424" width="1" height="1" fill="#ff0000"/><rect x="1121" y="425" width="1" height="2" fill="#ff0000"/><rect x="1122" y="427" width="1" height="1" fill="#ff0000"/><rect x="1123" y="428" width="1" height="1" fill="#ff0000"/><rect x="1124" y="429" width="1" height="1" fill="#ff0000"/><rect x="1125" y="430" width="1" height="1" fill="#ff0000"/><rect x="1126" y="431" width="1" height="1" fill="#ff0000"/><rect x="1127" y="432" width="1" height="1" fill="#ff0000"/><rect x="1128" y="433" width="1" height="2" fill="#ff0000"/><rect x="1129" y="435" width="1" height="1" fill="#ff0000"/><rect x="1130" y="436" width="1" height="1" fill="#ff0000"/><rect x="1131" y="437" width="1" height="1" fill="#ff0000"/><rect x="1132" y="438" width="1" height="1" fill="#ff0000"/><rect x="1133" y="439" width="1" height="1" fill="#ff0000"/><rect x="1134" y="440" width="1" height="2" fill="#ff0000"/><rect x="1135" y="442" width="1" height="1" fill="#ff0000"/><rect x="1136" y="443" width="1" height="1" fill="#ff0000"/><rect x="1137" y="444" width="1" height="1" fill="#ff0000"/><rect x="1138" y="445" width="1" height="1" fill="#ff0000"/><rect x="1139" y="446" width="1" height="1" fill="#ff0000"/><rect x="1140" y="447" width="2" height="1" fill="#ff0000"/><rect x="1142" y="448" width="1" height="1" fill="#ff0000"/><rect x="1143" y="449" width="2" height="1" fill="#ff0000"/><rect x="1145" y="450" width="2" height="1" fill="#ff0000"/><rect x="1147" y="451" width="1" height="1" fill="#ff0000"/><rect x="1148" y="452" width="2" height="1" fill="#ff0000"/><rect x="1150" y="453" width="1" height="1" fill="#ff0000"/><rect x="1151" y="454" width="2" height="1" fill="#ff0000"/><rect x="1153" y="455" width="2" height="1" fill="#ff0000"/><rect x="1155" y="456" width="1" height="1" fill="#ff0000"/></g>
<g id="open-arrow"><rect x="701" y="166" width="2" height="5" fill="#ffffff"/><rect x="702" y="167" width="2" height="2" fill="#ff0000"/><rect x="704" y="165" width="1" height="7" fill="#ff0000"/><rect x="705" y="166" width="1" height="5" fill="#ff0000"/><rect x="706" y="167" width="1" height="3" fill="#ff0000"/><rect x="707" y="168" width="1" height="1" fill="#ff0000"/></g>
<g id="close-arrow"><rect x="1133" y="540" width="2" height="5" fill="#ffffff"/><rect x="1134" y="545" width="3" height="2" fill="#ffffff"/><rect x="1134" y="541" width="2" height="2" fill="#008000"/><rect x="1136" y="540" width="1" height="6" fill="#008000"/><rect x="1137" y="540" width="1" height="5" fill="#008000"/><rect x="1138" y="541" width="1" height="3" fill="#008000"/><rect x="1139" y="542" width="1" height="1" fill="#008000"/><rect x="1141" y="542" width="2" height="1" fill="#ff0000"/></g>
<g id="trend"><rect x="707" y="168" width="1" height="1" fill="#ff0000"/><rect x="708" y="169" width="1" height="1" fill="#ff0000"/><rect x="709" y="170" width="1" height="1" fill="#ff0000"/><rect x="710" y="171" width="2" height="1" fill="#ff0000"/><rect x="712" y="172" width="1" height="1" fill="#ff0000"/><rect x="713" y="173" width="1" height="1" fill="#ff0000"/><rect x="714" y="174" width="1" height="1" fill="#ff0000"/><rect x="715" y="175" width="1" height="1" fill="#ff0000"/><rect x="716" y="176" width="1" height="1" fill="#ff0000"/><rect x="717" y="177" width="1" height="1" fill="#ff0000"/><rect x="718" y="178" width="2" height="1" fill="#ff0000"/><rect x="720" y="179" width="1" height="1" fill="#ff0000"/><rect x="721" y="180" width="1" height="1" fill="#ff0000"/><rect x="722" y="181" width="1" height="1" fill="#ff0000"/><rect x="723" y="182" width="1" height="1" fill="#ff0000"/><rect x="724" y="183" width="1" height="1" fill="#ff0000"/><rect x="725" y="184" width="2" height="1" fill="#ff0000"/><rect x="727" y="185" width="1" height="1" fill="#ff0000"/><rect x="728" y="186" width="1" height="1" fill="#ff0000"/><rect x="729" y="187" width="1" height="1" fill="#ff0000"/><rect x="730" y="188" width="1" height="1" fill="#ff0000"/><rect x="731" y="189" width="1" height="1" fill="#ff0000"/><rect x="732" y="190" width="1" height="1" fill="#ff0000"/><rect x="733" y="191" width="2" height="1" fill="#ff0000"/><rect x="735" y="192" width="1" height="1" fill="#ff0000"/><rect x="736" y="193" width="1" height="1" fill="#ff0000"/><rect x="737" y="194" width="1" height="1" fill="#ff0000"/><rect x="738" y="195" width="1" height="1" fill="#ff0000"/><rect x="739" y="196" width="1" height="1" fill="#ff0000"/><rect x="740" y="197" width="2" height="1" fill="#ff0000"/><rect x="742" y="198" width="1" height="1" fill="#ff0000"/><rect x="743" y="199" width="1" height="1" fill="#ff0000"/><rect x="744" y="200" width="1" height="1" fill="#ff0000"/><rect x="745" y="201" width="1" height="1" fill="#ff0000"/><rect x="746" y="202" width="1" height="1" fill="#ff0000"/><rect x="747" y="203" width="2" height="1" fill="#ff0000"/><rect x="749" y="204" width="1" height="1" fill="#ff0000"/><rect x="750" y="205" width="1" height="1" fill="#ff0000"/><rect x="751" y="206" width="1" height="1" fill="#ff0000"/><rect x="752" y="207" width="1" height="1" fill="#ff0000"/><rect x="753" y="208" width="1" height="1" fill="#ff0000"/><rect x="754" y="209" width="1" height="1" fill="#ff0000"/><rect x="755" y="210" width="2" height="1" fill="#ff0000"/><rect x="757" y="211" width="1" height="1" fill="#ff0000"/><rect x="758" y="212" width="1" height="1" fill="#ff0000"/><rect x="759" y="213" width="1" height="1" fill="#ff0000"/><rect x="760" y="214" width="1" height="1" fill="#ff0000"/><rect x="761" y="215" width="1" height="1" fill="#ff0000"/><rect x="762" y="216" width="2" height="1" fill="#ff0000"/><rect x="764" y="217" width="1" height="1" fill="#ff0000"/><rect x="765" y="218" width="1" height="1" fill="#ff0000"/><rect x="766" y="219" width="1" height="1" fill="#ff0000"/><rect x="767" y="220" width="1" height="1" fill="#ff0000"/><rect x="768" y="221" width="1" height="1" fill="#ff0000"/><rect x="769" y="222" width="1" height="1" fill="#ff0000"/><rect x="770" y="223" width="2" height="1" fill="#ff0000"/><rect x="772" y="224" width="1" height="1" fill="#ff0000"/><rect x="773" y="225" width="1" height="1" fill="#ff0000"/><rect x="774" y="226" width="1" height="1" fill="#ff0000"/><rect x="775" y="227" width="1" height="1" fill="#ff0000"/><rect x="776" y="228" width="1" height="1" fill="#ff0000"/><rect x="777" y="229" width="2" height="1" fill="#ff0000"/><rect x="779" y="230" width="1" height="1" fill="#ff0000"/><rect x="780" y="231" width="1" height="1" fill="#ff0000"/><rect x="781" y="232" width="1" height="1" fill="#ff0000"/><rect x="782" y="233" width="1" height="1" fill="#ff0000"/><rect x="783" y="234" width="1" height="1" fill="#ff0000"/><rect x="784" y="235" width="1" height="1" fill="#ff0000"/><rect x="785" y="236" width="2" height="1" fill="#ff0000"/><rect x="787" y="237" width="1" height="1" fill="#ff0000"/><rect x="788" y="238" width="1" height="1" fill="#ff0000"/><rect x="789" y="239" width="1" height="1" fill="#ff0000"/><rect x="790" y="240" width="1" height="1" fill="#ff0000"/><rect x="791" y="241" width="1" height="1" fill="#ff0000"/><rect x="792" y="242" width="2" height="1" fill="#ff0000"/><rect x="794" y="243" width="1" height="1" fill="#ff0000"/><rect x="795" y="244" width="1" height="1" fill="#ff0000"/><rect x="796" y="245" width="1" height="1" fill="#ff0000"/><rect x="797" y="246" width="1" height="1" fill="#ff0000"/><rect x="798" y="247" width="1" height="1" fill="#ff0000"/><rect x="799" y="248" width="1" height="1" fill="#ff0000"/><rect x="800" y="249" width="2" height="1" fill="#ff0000"/><rect x="802" y="250" width="1" height="1" fill="#ff0000"/><rect x="803" y="251" width="1" height="1" fill="#ff0000"/><rect x="804" y="252" width="1" height="1" fill="#ff0000"/><rect x="805" y="253" width="1" height="1" fill="#ff0000"/><rect x="806" y="254" width="1" height="1" fill="#ff0000"/><rect x="807" y="255" width="2" height="1" fill="#ff0000"/><rect x="809" y="256" width="1" height="1" fill="#ff0000"/><rect x="810" y="257" width="1" height="1" fill="#ff0000"/><rect x="811" y="258" width="1" height="1" fill="#ff0000"/><rect x="812" y="259" width="1" height="1" fill="#ff0000"/><rect x="813" y="260" width="1" height="1" fill="#ff0000"/><rect x="814" y="261" width="1" height="1" fill="#ff0000"/><rect x="815" y="262" width="2" height="1" fill="#ff0000"/><rect x="817" y="263" width="1" height="1" fill="#ff0000"/><rect x="818" y="264" width="1" height="1" fill="#ff0000"/><rect x="819" y="265" width="1" height="1" fill="#ff0000"/><rect x="820" y="266" width="1" height="1" fill="#ff0000"/><rect x="821" y="267" width="1" height="1" fill="#ff0000"/><rect x="822" y="268" width="2" height="1" fill="#ff0000"/><rect x="824" y="269" width="1" height="1" fill="#ff0000"/><rect x="825" y="270" width="1" height="1" fill="#ff0000"/><rect x="826" y="271" width="1" height="1" fill="#ff0000"/><rect x="827" y="272" width="1" height="1" fill="#ff0000"/><rect x="828" y="273" width="1" height="1" fill="#ff0000"/><rect x="829" y="274" width="2" height="1" fill="#ff0000"/><rect x="831" y="275" width="1" height="1" fill="#ff0000"/><rect x="832" y="276" width="1" height="1" fill="#ff0000"/><rect x="833" y="277" width="1" height="1" fill="#ff0000"/><rect x="834" y="278" width="1" height="1" fill="#ff0000"/><rect x="835" y="279" width="1" height="1" fill="#ff0000"/><rect x="836" y="280" width="1" height="1" fill="#ff0000"/><rect x="837" y="281" width="2" height="1" fill="#ff0000"/><rect x="839" y="282" width="1" height="1" fill="#ff0000"/><rect x="840" y="283" width="1" height="1" fill="#ff0000"/><rect x="841" y="284" width="1" height="1" fill="#ff0000"/><rect x="842" y="285" width="1" height="1" fill="#ff0000"/><rect x="843" y="286" width="1" height="1" fill="#ff0000"/><rect x="844" y="287" width="2" height="1" fill="#ff0000"/><rect x="846" y="288" width="1" height="1" fill="#ff0000"/><rect x="847" y="289" width="1" height="1" fill="#ff0000"/><rect x="848" y="290" width="1" height="1" fill="#ff0000"/><rect x="849" y="291" width="1" height="1" fill="#ff0000"/><rect x="850" y="292" width="1" height="1" fill="#ff0000"/><rect x="851" y="293" width="1" height="1" fill="#ff0000"/><rect x="852" y="294" width="2" height="1" fill="#ff0000"/><rect x="854" y="295" width="1" height="1" fill="#ff0000"/><rect x="855" y="296" width="1" height="1" fill="#ff0000"/><rect x="856" y="297" width="1" height="1" fill="#ff0000"/><rect x="857" y="298" width="1" height="1" fill="#ff0000"/><rect x="858" y="299" width="1" height="1" fill="#ff0000"/><rect x="859" y="300" width="2" height="1" fill="#ff0000"/><rect x="861" y="301" width="1" height="1" fill="#ff0000"/><rect x="862" y="302" width="1" height="1" fill="#ff0000"/><rect x="863" y="303" width="1" height="1" fill="#ff0000"/><rect x="864" y="304" width="1" height="1" fill="#ff0000"/><rect x="865" y="305" width="1" height="1" fill="#ff0000"/><rect x="866" y="306" width="1" height="1" fill="#ff0000"/><rect x="867" y="307" width="2" height="1" fill="#ff0000"/><rect x="869" y="308" width="1" height="1" fill="#ff0000"/><rect x="870" y="309" width="1" height="1" fill="#ff0000"/><rect x="871" y="310" width="1" height="1" fill="#ff0000"/><rect x="872" y="311" width="1" height="1" fill="#ff0000"/><rect x="873" y="312" width="1" height="1" fill="#ff0000"/><rect x="874" y="313" width="2" height="1" fill="#ff0000"/><rect x="876" y="314" width="1" height="1" fill="#ff0000"/><rect x="877" y="315" width="1" height="1" fill="#ff0000"/><rect x="878" y="316" width="1" height="1" fill="#ff0000"/><rect x="879" y="317" width="1" height="1" fill="#ff0000"/><rect x="880" y="318" width="1" height="1" fill="#ff0000"/><rect x="881" y="319" width="1" height="1" fill="#ff0000"/><rect x="882" y="320" width="2" height="1" fill="#ff0000"/><rect x="884" y="321" width="1" height="1" fill="#ff0000"/><rect x="885" y="322" width="1" height="1" fill="#ff0000"/><rect x="886" y="323" width="1" height="1" fill="#ff0000"/><rect x="887" y="324" width="1" height="1" fill="#ff0000"/><rect x="888" y="325" width="1" height="1" fill="#ff0000"/><rect x="889" y="326" width="2" height="1" fill="#ff0000"/><rect x="891" y="327" width="1" height="1" fill="#ff0000"/><rect x="892" y="328" width="1" height="1" fill="#ff0000"/><rect x="893" y="329" width="1" height="1" fill="#ff0000"/><rect x="894" y="330" width="1" height="1" fill="#ff0000"/><rect x="895" y="331" width="1" height="1" fill="#ff0000"/><rect x="896" y="332" width="2" height="1" fill="#ff0000"/><rect x="898" y="333" width="1" height="1" fill="#ff0000"/><rect x="899" y="334" width="1" height="1" fill="#ff0000"/><rect x="900" y="335" width="1" height="1" fill="#ff0000"/><rect x="901" y="336" width="1" height="1" fill="#ff0000"/><rect x="902" y="337" width="1" height="1" fill="#ff0000"/><rect x="903" y="338" width="1" height="1" fill="#ff0000"/><rect x="904" y="339" width="2" height="1" fill="#ff0000"/><rect x="906" y="340" width="1" height="1" fill="#ff0000"/><rect x="907" y="341" width="1" height="1" fill="#ff0000"/><rect x="908" y="342" width="1" height="1" fill="#ff0000"/><rect x="909" y="343" width="1" height="1" fill="#ff0000"/><rect x="910" y="344" width="1" height="1" fill="#ff0000"/><rect x="911" y="345" width="2" height="1" fill="#ff0000"/><rect x="913" y="346" width="1" height="1" fill="#ff0000"/><rect x="914" y="347" width="1" height="1" fill="#ff0000"/><rect x="915" y="348" width="1" height="1" fill="#ff0000"/><rect x="916" y="349" width="1" height="1" fill="#ff0000"/><rect x="917" y="350" width="1" height="1" fill="#ff0000"/><rect x="918" y="351" width="1" height="1" fill="#ff0000"/><rect x="919" y="352" width="2" height="1" fill="#ff0000"/><rect x="921" y="353" width="1" height="1" fill="#ff0000"/><rect x="922" y="354" width="1" height="1" fill="#ff0000"/><rect x="923" y="355" width="1" height="1" fill="#ff0000"/><rect x="924" y="356" width="1" height="1" fill="#ff0000"/><rect x="925" y="357" width="1" height="1" fill="#ff0000"/><rect x="926" y="358" width="2" height="1" fill="#ff0000"/><rect x="928" y="359" width="1" height="1" fill="#ff0000"/><rect x="929" y="360" width="1" height="1" fill="#ff0000"/><rect x="930" y="361" width="1" height="1" fill="#ff0000"/><rect x="931" y="362" width="1" height="1" fill="#ff0000"/><rect x="932" y="363" width="1" height="1" fill="#ff0000"/><rect x="933" y="364" width="1" height="1" fill="#ff0000"/><rect x="934" y="365" width="2" height="1" fill="#ff0000"/><rect x="936" y="366" width="1" height="1" fill="#ff0000"/><rect x="937" y="367" width="1" height="1" fill="#ff0000"/><rect x="938" y="368" width="1" height="1" fill="#ff0000"/><rect x="939" y="369" width="1" height="1" fill="#ff0000"/><rect x="940" y="370" width="1" height="1" fill="#ff0000"/><rect x="941" y="371" width="2" height="1" fill="#ff0000"/><rect x="943" y="372" width="1" height="1" fill="#ff0000"/><rect x="944" y="373" width="1" height="1" fill="#ff0000"/><rect x="945" y="374" width="1" height="1" fill="#ff0000"/><rect x="946" y="375" width="1" height="1" fill="#ff0000"/><rect x="947" y="376" width="1" height="1" fill="#ff0000"/><rect x="948" y="377" width="1" height="1" fill="#ff0000"/><rect x="949" y="378" width="2" height="1" fill="#ff0000"/><rect x="951" y="379" width="1" height="1" fill="#ff0000"/><rect x="952" y="380" width="1" height="1" fill="#ff0000"/><rect x="953" y="381" width="1" height="1" fill="#ff0000"/><rect x="954" y="382" width="1" height="1" fill="#ff0000"/><rect x="955" y="383" width="1" height="1" fill="#ff0000"/><rect x="956" y="384" width="2" height="1" fill="#ff0000"/><rect x="958" y="385" width="1" height="1" fill="#ff0000"/><rect x="959" y="386" width="1" height="1" fill="#ff0000"/><rect x="960" y="387" width="1" height="1" fill="#ff0000"/><rect x="961" y="388" width="1" height="1" fill="#ff0000"/><rect x="962" y="389" width="1" height="1" fill="#ff0000"/><rect x="963" y="390" width="2" height="1" fill="#ff0000"/><rect x="965" y="391" width="1" height="1" fill="#ff0000"/><rect x="966" y="392" width="1" height="1" fill="#ff0000"/><rect x="967" y="393" width="1" height="1" fill="#ff0000"/><rect x="968" y="394" width="1" height="1" fill="#ff0000"/><rect x="969" y="395" width="1" height="1" fill="#ff0000"/><rect x="970" y="396" width="1" height="1" fill="#ff0000"/><rect x="971" y="397" width="2" height="1" fill="#ff0000"/><rect x="973" y="398" width="1" height="1" fill="#ff0000"/><rect x="974" y="399" width="1" height="1" fill="#ff0000"/><rect x="975" y="400" width="1" height="1" fill="#ff0000"/><rect x="976" y="401" width="1" height="1" fill="#ff0000"/><rect x="977" y="402" width="1" height="1" fill="#ff0000"/><rect x="978" y="403" width="2" height="1" fill="#ff0000"/><rect x="980" y="404" width="1" height="1" fill="#ff0000"/><rect x="981" y="405" width="1" height="1" fill="#ff0000"/><rect x="982" y="406" width="1" height="1" fill="#ff0000"/><rect x="983" y="407" width="1" height="1" fill="#ff0000"/><rect x="984" y="408" width="1" height="1" fill="#ff0000"/><rect x="985" y="409" width="1" height="1" fill="#ff0000"/><rect x="986" y="410" width="2" height="1" fill="#ff0000"/><rect x="988" y="411" width="1" height="1" fill="#ff0000"/><rect x="989" y="412" width="1" height="1" fill="#ff0000"/><rect x="990" y="413" width="1" height="1" fill="#ff0000"/><rect x="991" y="414" width="1" height="1" fill="#ff0000"/><rect x="992" y="415" width="1" height="1" fill="#ff0000"/><rect x="993" y="416" width="2" height="1" fill="#ff0000"/><rect x="995" y="417" width="1" height="1" fill="#ff0000"/><rect x="996" y="418" width="1" height="1" fill="#ff0000"/><rect x="997" y="419" width="1" height="1" fill="#ff0000"/><rect x="998" y="420" width="1" height="1" fill="#ff0000"/><rect x="999" y="421" width="1" height="1" fill="#ff0000"/><rect x="1000" y="422" width="1" height="1" fill="#ff0000"/><rect x="1001" y="423" width="2" height="1" fill="#ff0000"/><rect x="1003" y="424" width="1" height="1" fill="#ff0000"/><rect x="1004" y="425" width="1" height="1" fill="#ff0000"/><rect x="1005" y="426" width="1" height="1" fill="#ff0000"/><rect x="1006" y="427" width="1" height="1" fill="#ff0000"/><rect x="1007" y="428" width="1" height="1" fill="#ff0000"/><rect x="1008" y="429" width="2" height="1" fill="#ff0000"/><rect x="1010" y="430" width="1" height="1" fill="#ff0000"/><rect x="1011" y="431" width="1" height="1" fill="#ff0000"/><rect x="1012" y="432" width="1" height="1" fill="#ff0000"/><rect x="1013" y="433" width="1" height="1" fill="#ff0000"/><rect x="1014" y="434" width="1" height="1" fill="#ff0000"/><rect x="1015" y="435" width="1" height="1" fill="#ff0000"/><rect x="1016" y="436" width="2" height="1" fill="#ff0000"/><rect x="1018" y="437" width="1" height="1" fill="#ff0000"/><rect x="1019" y="438" width="1" height="1" fill="#ff0000"/><rect x="1020" y="439" width="1" height="1" fill="#ff0000"/><rect x="1021" y="440" width="1" height="1" fill="#ff0000"/><rect x="1022" y="441" width="1" height="1" fill="#ff0000"/><rect x="1023" y="442" width="2" height="1" fill="#ff0000"/><rect x="1025" y="443" width="1" height="1" fill="#ff0000"/><rect x="1026" y="444" width="1" height="1" fill="#ff0000"/><rect x="1027" y="445" width="1" height="1" fill="#ff0000"/><rect x="1028" y="446" width="1" height="1" fill="#ff0000"/><rect x="1029" y="447" width="1" height="1" fill="#ff0000"/><rect x="1030" y="448" width="1" height="1" fill="#ff0000"/><rect x="1031" y="449" width="2" height="1" fill="#ff0000"/><rect x="1033" y="450" width="1" height="1" fill="#ff0000"/><rect x="1034" y="451" width="1" height="1" fill="#ff0000"/><rect x="1035" y="452" width="1" height="1" fill="#ff0000"/><rect x="1036" y="453" width="1" height="1" fill="#ff0000"/><rect x="1037" y="454" width="1" height="1" fill="#ff0000"/><rect x="1038" y="455" width="2" height="1" fill="#ff0000"/><rect x="1040" y="456" width="1" height="1" fill="#ff0000"/><rect x="1041" y="457" width="1" height="1" fill="#ff0000"/><rect x="1042" y="458" width="1" height="1" fill="#ff0000"/><rect x="1043" y="459" width="1" height="1" fill="#ff0000"/><rect x="1044" y="460" width="1" height="1" fill="#ff0000"/><rect x="1045" y="461" width="2" height="1" fill="#ff0000"/><rect x="1047" y="462" width="1" height="1" fill="#ff0000"/><rect x="1048" y="463" width="1" height="1" fill="#ff0000"/><rect x="1049" y="464" width="1" height="1" fill="#ff0000"/><rect x="1050" y="465" width="1" height="1" fill="#ff0000"/><rect x="1051" y="466" width="1" height="1" fill="#ff0000"/><rect x="1052" y="467" width="1" height="1" fill="#ff0000"/><rect x="1053" y="468" width="2" height="1" fill="#ff0000"/><rect x="1055" y="469" width="1" height="1" fill="#ff0000"/><rect x="1056" y="470" width="1" height="1" fill="#ff0000"/><rect x="1057" y="471" width="1" height="1" fill="#ff0000"/><rect x="1058" y="472" width="1" height="1" fill="#ff0000"/><rect x="1059" y="473" width="1" height="1" fill="#ff0000"/><rect x="1060" y="474" width="2" height="1" fill="#ff0000"/><rect x="1062" y="475" width="1" height="1" fill="#ff0000"/><rect x="1063" y="476" width="1" height="1" fill="#ff0000"/><rect x="1064" y="477" width="1" height="1" fill="#ff0000"/><rect x="1065" y="478" width="1" height="1" fill="#ff0000"/><rect x="1066" y="479" width="1" height="1" fill="#ff0000"/><rect x="1067" y="480" width="1" height="1" fill="#ff0000"/><rect x="1068" y="481" width="2" height="1" fill="#ff0000"/><rect x="1070" y="482" width="1" height="1" fill="#ff0000"/><rect x="1071" y="483" width="1" height="1" fill="#ff0000"/><rect x="1072" y="484" width="1" height="1" fill="#ff0000"/><rect x="1073" y="485" width="1" height="1" fill="#ff0000"/><rect x="1074" y="486" width="1" height="1" fill="#ff0000"/><rect x="1075" y="487" width="2" height="1" fill="#ff0000"/><rect x="1077" y="488" width="1" height="1" fill="#ff0000"/><rect x="1078" y="489" width="1" height="1" fill="#ff0000"/><rect x="1079" y="490" width="1" height="1" fill="#ff0000"/><rect x="1080" y="491" width="1" height="1" fill="#ff0000"/><rect x="1081" y="492" width="1" height="1" fill="#ff0000"/><rect x="1082" y="493" width="1" height="1" fill="#ff0000"/><rect x="1083" y="494" width="2" height="1" fill="#ff0000"/><rect x="1085" y="495" width="1" height="1" fill="#ff0000"/><rect x="1086" y="496" width="1" height="1" fill="#ff0000"/><rect x="1087" y="497" width="1" height="1" fill="#ff0000"/><rect x="1088" y="498" width="1" height="1" fill="#ff0000"/><rect x="1089" y="499" width="1" height="1" fill="#ff0000"/><rect x="1090" y="500" width="2" height="1" fill="#ff0000"/><rect x="1092" y="501" width="1" height="1" fill="#ff0000"/><rect x="1093" y="502" width="1" height="1" fill="#ff0000"/><rect x="1094" y="503" width="1" height="1" fill="#ff0000"/><rect x="1095" y="504" width="1" height="1" fill="#ff0000"/><rect x="1096" y="505" width="1" height="1" fill="#ff0000"/><rect x="1097" y="506" width="1" height="1" fill="#ff0000"/><rect x="1098" y="507" width="2" height="1" fill="#ff0000"/><rect x="1100" y="508" width="1" height="1" fill="#ff0000"/><rect x="1101" y="509" width="1" height="1" fill="#ff0000"/><rect x="1102" y="510" width="1" height="1" fill="#ff0000"/><rect x="1103" y="511" width="1" height="1" fill="#ff0000"/><rect x="1104" y="512" width="1" height="1" fill="#ff0000"/><rect x="1105" y="513" width="2" height="1" fill="#ff0000"/><rect x="1107" y="514" width="1" height="1" fill="#ff0000"/><rect x="1108" y="515" width="1" height="1" fill="#ff0000"/><rect x="1109" y="516" width="1" height="1" fill="#ff0000"/><rect x="1110" y="517" width="1" height="1" fill="#ff0000"/><rect x="1111" y="518" width="1" height="1" fill="#ff0000"/><rect x="1112" y="519" width="2" height="1" fill="#ff0000"/><rect x="1114" y="520" width="1" height="1" fill="#ff0000"/><rect x="1115" y="521" width="1" height="1" fill="#ff0000"/><rect x="1116" y="522" width="1" height="1" fill="#ff0000"/><rect x="1117" y="523" width="1" height="1" fill="#ff0000"/><rect x="1118" y="524" width="1" height="1" fill="#ff0000"/><rect x="1119" y="525" width="1" height="1" fill="#ff0000"/><rect x="1120" y="526" width="2" height="1" fill="#ff0000"/><rect x="1122" y="527" width="1" height="1" fill="#ff0000"/><rect x="1123" y="528" width="1" height="1" fill="#ff0000"/><rect x="1124" y="529" width="1" height="1" fill="#ff0000"/><rect x="1125" y="530" width="1" height="1" fill="#ff0000"/><rect x="1126" y="531" width="1" height="1" fill="#ff0000"/><rect x="1127" y="532" width="2" height="1" fill="#ff0000"/><rect x="1129" y="533" width="1" height="1" fill="#ff0000"/><rect x="1130" y="534" width="1" height="1" fill="#ff0000"/><rect x="1131" y="535" width="1" height="1" fill="#ff0000"/><rect x="1132" y="536" width="1" height="1" fill="#ff0000"/><rect x="1133" y="537" width="1" height="1" fill="#ff0000"/><rect x="1134" y="538" width="1" height="1" fill="#ff0000"/><rect x="1135" y="539" width="2" height="1" fill="#ff0000"/><rect x="1137" y="540" width="1" height="1" fill="#ff0000"/><rect x="1138" y="541" width="1" height="1" fill="#ff0000"/><rect x="1139" y="542" width="1" height="1" fill="#ff0000"/></g>
<g id="frame">
<rect x="2" y="2" width="1492" height="1" fill="#ffffff"/>
<rect x="2" y="2" width="1" height="674" fill="#ffffff"/>
<rect x="1493" y="2" width="1" height="674" fill="#ffffff"/>
<rect x="2" y="675" width="1492" height="1" fill="#ffffff"/>
<rect x="1493" y="505" width="1" height="1" fill="#800000"/>
<rect x="1493" y="517" width="1" height="1" fill="#008000"/>
</g>
<g id="pticks">
<rect x="1494" y="36" width="2" height="1" fill="#ffffff"/>
<rect x="1494" y="71" width="2" height="1" fill="#ffffff"/>
<rect x="1494" y="107" width="2" height="1" fill="#ffffff"/>
<rect x="1494" y="143" width="2" height="1" fill="#ffffff"/>
<rect x="1494" y="178" width="2" height="1" fill="#ffffff"/>
<rect x="1494" y="214" width="2" height="1" fill="#ffffff"/>
<rect x="1494" y="250" width="2" height="1" fill="#ffffff"/>
<rect x="1494" y="285" width="2" height="1" fill="#ffffff"/>
<rect x="1494" y="318" width="2" height="1" fill="#ffffff"/>
<rect x="1494" y="353" width="2" height="1" fill="#ffffff"/>
<rect x="1494" y="389" width="2" height="1" fill="#ffffff"/>
<rect x="1494" y="425" width="2" height="1" fill="#ffffff"/>
<rect x="1494" y="460" width="2" height="1" fill="#ffffff"/>
<rect x="1494" y="496" width="2" height="1" fill="#ffffff"/>
<rect x="1494" y="532" width="2" height="1" fill="#ffffff"/>
<rect x="1494" y="567" width="2" height="1" fill="#ffffff"/>
<rect x="1494" y="600" width="2" height="1" fill="#ffffff"/>
<rect x="1494" y="635" width="2" height="1" fill="#ffffff"/>
<rect x="1494" y="671" width="2" height="1" fill="#ffffff"/>
</g>
<g id="tticks">
<rect x="3" y="676" width="1" height="3" fill="#ffffff"/>
<rect x="67" y="676" width="1" height="3" fill="#ffffff"/>
<rect x="131" y="676" width="1" height="3" fill="#ffffff"/>
<rect x="195" y="676" width="1" height="3" fill="#ffffff"/>
<rect x="259" y="676" width="1" height="3" fill="#ffffff"/>
<rect x="323" y="676" width="1" height="3" fill="#ffffff"/>
<rect x="387" y="676" width="1" height="3" fill="#ffffff"/>
<rect x="451" y="676" width="1" height="3" fill="#ffffff"/>
<rect x="515" y="676" width="1" height="3" fill="#ffffff"/>
<rect x="579" y="676" width="1" height="3" fill="#ffffff"/>
<rect x="643" y="676" width="1" height="3" fill="#ffffff"/>
<rect x="707" y="676" width="1" height="3" fill="#ffffff"/>
<rect x="771" y="676" width="1" height="3" fill="#ffffff"/>
<rect x="835" y="676" width="1" height="3" fill="#ffffff"/>
<rect x="899" y="676" width="1" height="3" fill="#ffffff"/>
<rect x="963" y="676" width="1" height="3" fill="#ffffff"/>
<rect x="1027" y="676" width="1" height="3" fill="#ffffff"/>
<rect x="1091" y="676" width="1" height="3" fill="#ffffff"/>
<rect x="1155" y="676" width="1" height="3" fill="#ffffff"/>
</g>
</svg>
<div class="t p" style="top:31px">1.29885</div>
<div class="t p" style="top:66px">1.29835</div>
<div class="t p" style="top:102px">1.29785</div>
<div class="t p" style="top:138px">1.29735</div>
<div class="t p" style="top:173px">1.29685</div>
<div class="t p" style="top:209px">1.29635</div>
<div class="t p" style="top:245px">1.29585</div>
<div class="t p" style="top:280px">1.29535</div>
<div class="t p" style="top:313px">1.29490</div>
<div class="t p" style="top:348px">1.29440</div>
<div class="t p" style="top:384px">1.29390</div>
<div class="t p" style="top:420px">1.29340</div>
<div class="t p" style="top:455px">1.29290</div>
<div class="t p" style="top:491px">1.29240</div>
<div class="t p" style="top:527px">1.29190</div>
<div class="t p" style="top:562px">1.29140</div>
<div class="t p" style="top:595px">1.29095</div>
<div class="t p" style="top:630px">1.29045</div>
<div class="t p" style="top:666px">1.28995</div>
<div class="box" style="top:499px;background:#800000"></div>
<div class="t p" style="top:500px;color:#000">1.29227</div>
<div class="box" style="top:511px;background:#fff"></div>
<div class="t p" style="top:512px;color:#000">1.29211</div>
<div class="t d" style="left:2px">8 Oct 2012</div>
<div class="t d" style="left:66px">9 Oct 00:15</div>
<div class="t d" style="left:130px">9 Oct 01:15</div>
<div class="t d" style="left:194px">9 Oct 02:15</div>
<div class="t d" style="left:258px">9 Oct 03:15</div>
<div class="t d" style="left:322px">9 Oct 04:15</div>
<div class="t d" style="left:386px">9 Oct 05:15</div>
<div class="t d" style="left:450px">9 Oct 06:15</div>
<div class="t d" style="left:514px">9 Oct 07:15</div>
<div class="t d" style="left:578px">9 Oct 08:15</div>
<div class="t d" style="left:642px">9 Oct 09:15</div>
<div class="t d" style="left:706px">9 Oct 10:15</div>
<div class="t d" style="left:770px">9 Oct 11:15</div>
<div class="t d" style="left:834px">9 Oct 12:15</div>
<div class="t d" style="left:898px">9 Oct 13:15</div>
<div class="t d" style="left:962px">9 Oct 14:15</div>
<div class="t d" style="left:1026px">9 Oct 15:15</div>
<div class="t d" style="left:1090px">9 Oct 16:15</div>
<div class="t d" style="left:1154px">9 Oct 17:15</div>
<div class="t" id="copy" style="left:5.5px;top:662px;font-size:11px;letter-spacing:0.04px">MetaTrader 4, © 2001-2012, MetaQuotes Software Corp.</div>
<div class="t" id="profit" style="left:1122px;top:604px;font-size:14px;color:#008000;letter-spacing:-0.87px">+50.7</div>
</body>
</html>
